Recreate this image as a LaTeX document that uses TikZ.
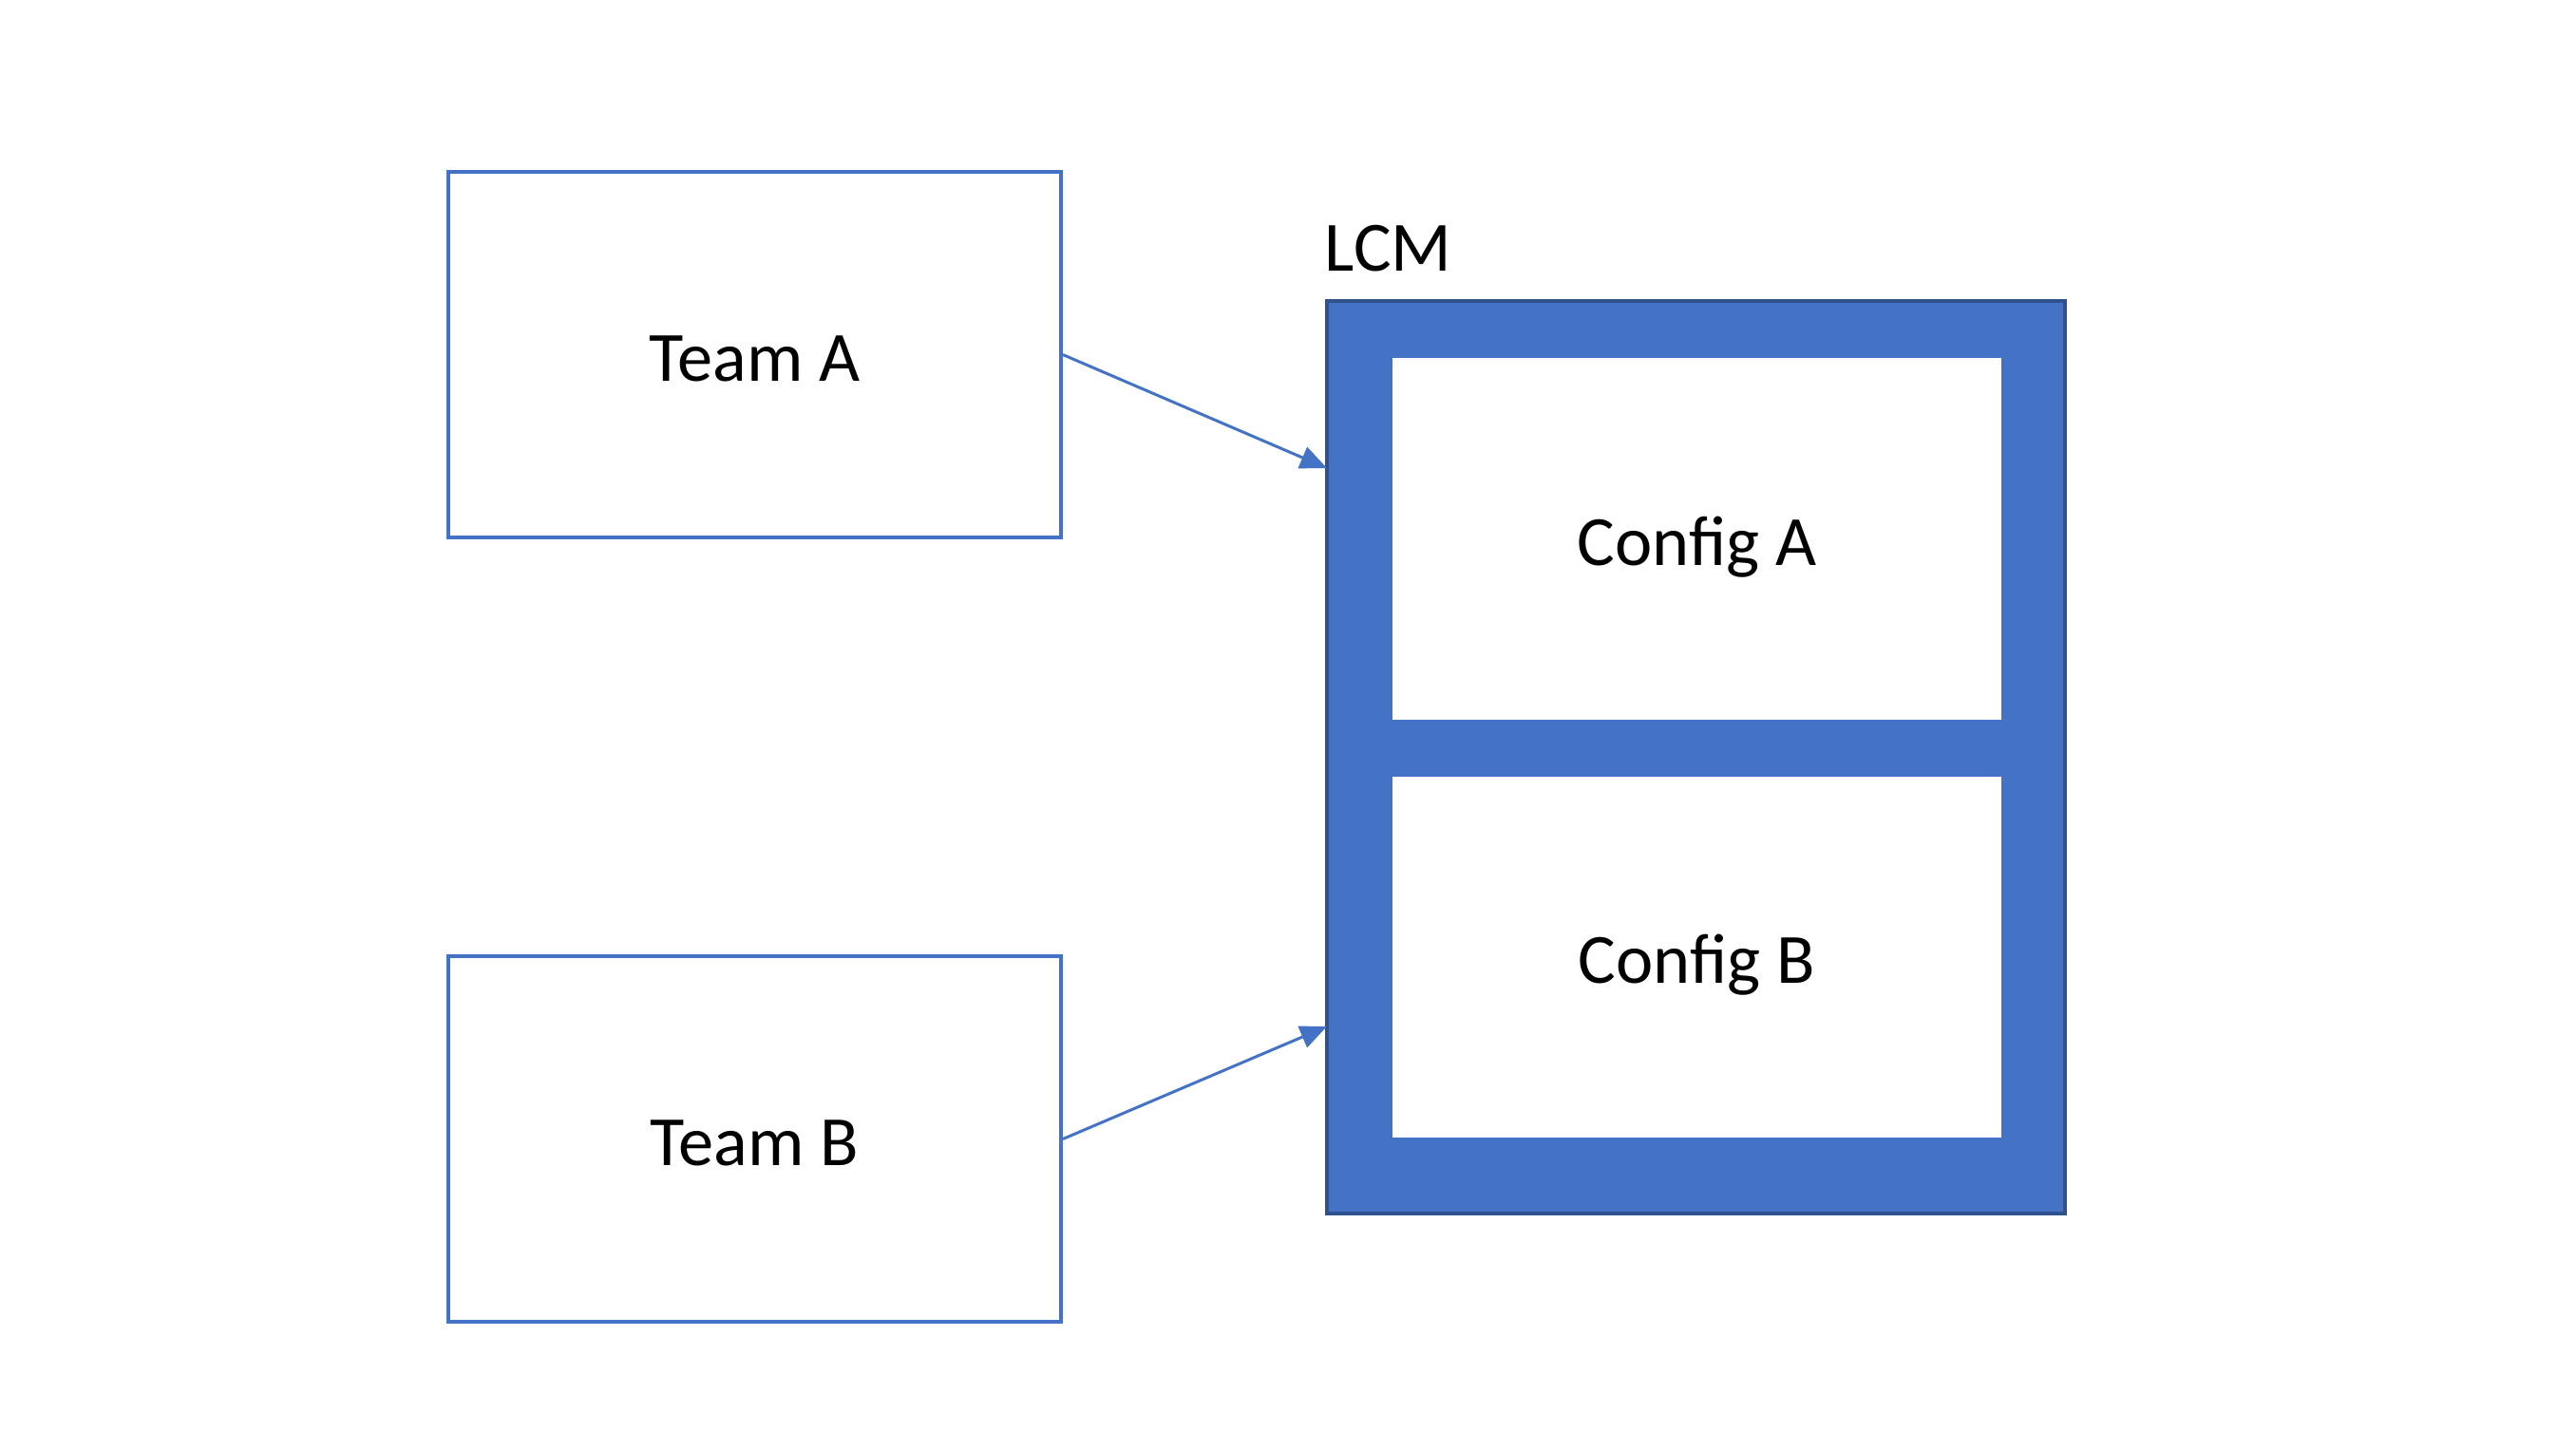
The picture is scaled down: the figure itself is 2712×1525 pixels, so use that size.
\documentclass[tikz,border=0pt]{standalone}
\usepackage{fontspec}
\setmainfont{Carlito}
\usetikzlibrary{arrows.meta}
\definecolor{accent}{HTML}{4472C4}
\definecolor{accentdark}{HTML}{2F528F}
\begin{document}
\begin{tikzpicture}[x=0.25pt,y=-0.25pt,
  every node/.style={font=\fontsize{18.6}{22}\selectfont},
  boxtext/.style={text height=13.8pt,text depth=0pt},
  teambox/.style={boxtext,draw=accent,line width=1pt,fill=white,minimum width=161.25pt,minimum height=96.25pt,inner sep=0pt},
  lcmbox/.style={draw=accentdark,line width=1pt,fill=accent,minimum width=194.25pt,minimum height=240.25pt,inner sep=0pt},
  configbox/.style={boxtext,fill=white,minimum width=160.25pt,inner sep=0pt},
  link/.style={draw=accent,line width=0.75pt,-{Triangle[length=7pt,width=6pt]}}]
  \useasboundingbox (0,0) rectangle (2712,1525);
  \fill[white] (0,0) rectangle (2712,1525);

  % team boxes
  \node[teambox] (teamA) at (794.5,373.5) {Team A};
  \node[teambox] (teamB) at (794.5,1199.5) {Team B};

  % LCM container with its two configurations
  \node[lcmbox] (lcm) at (1785.5,797.5) {};
  \node[configbox,minimum height=95.25pt] (cfgA) at (1786.5,567.5) {Config A};
  \node[configbox,minimum height=95pt] (cfgB) at (1786.5,1008) {Config B};
  \node[anchor=base west,inner sep=0pt] (lcmlabel) at (1394,285) {LCM};

  % arrow targets on the container's left edge
  \coordinate (inA) at (1397,493);
  \coordinate (inB) at (1397,1081);

  \draw[link] (teamA.east) -- (inA);
  \draw[link] (teamB.east) -- (inB);
\end{tikzpicture}
\end{document}
